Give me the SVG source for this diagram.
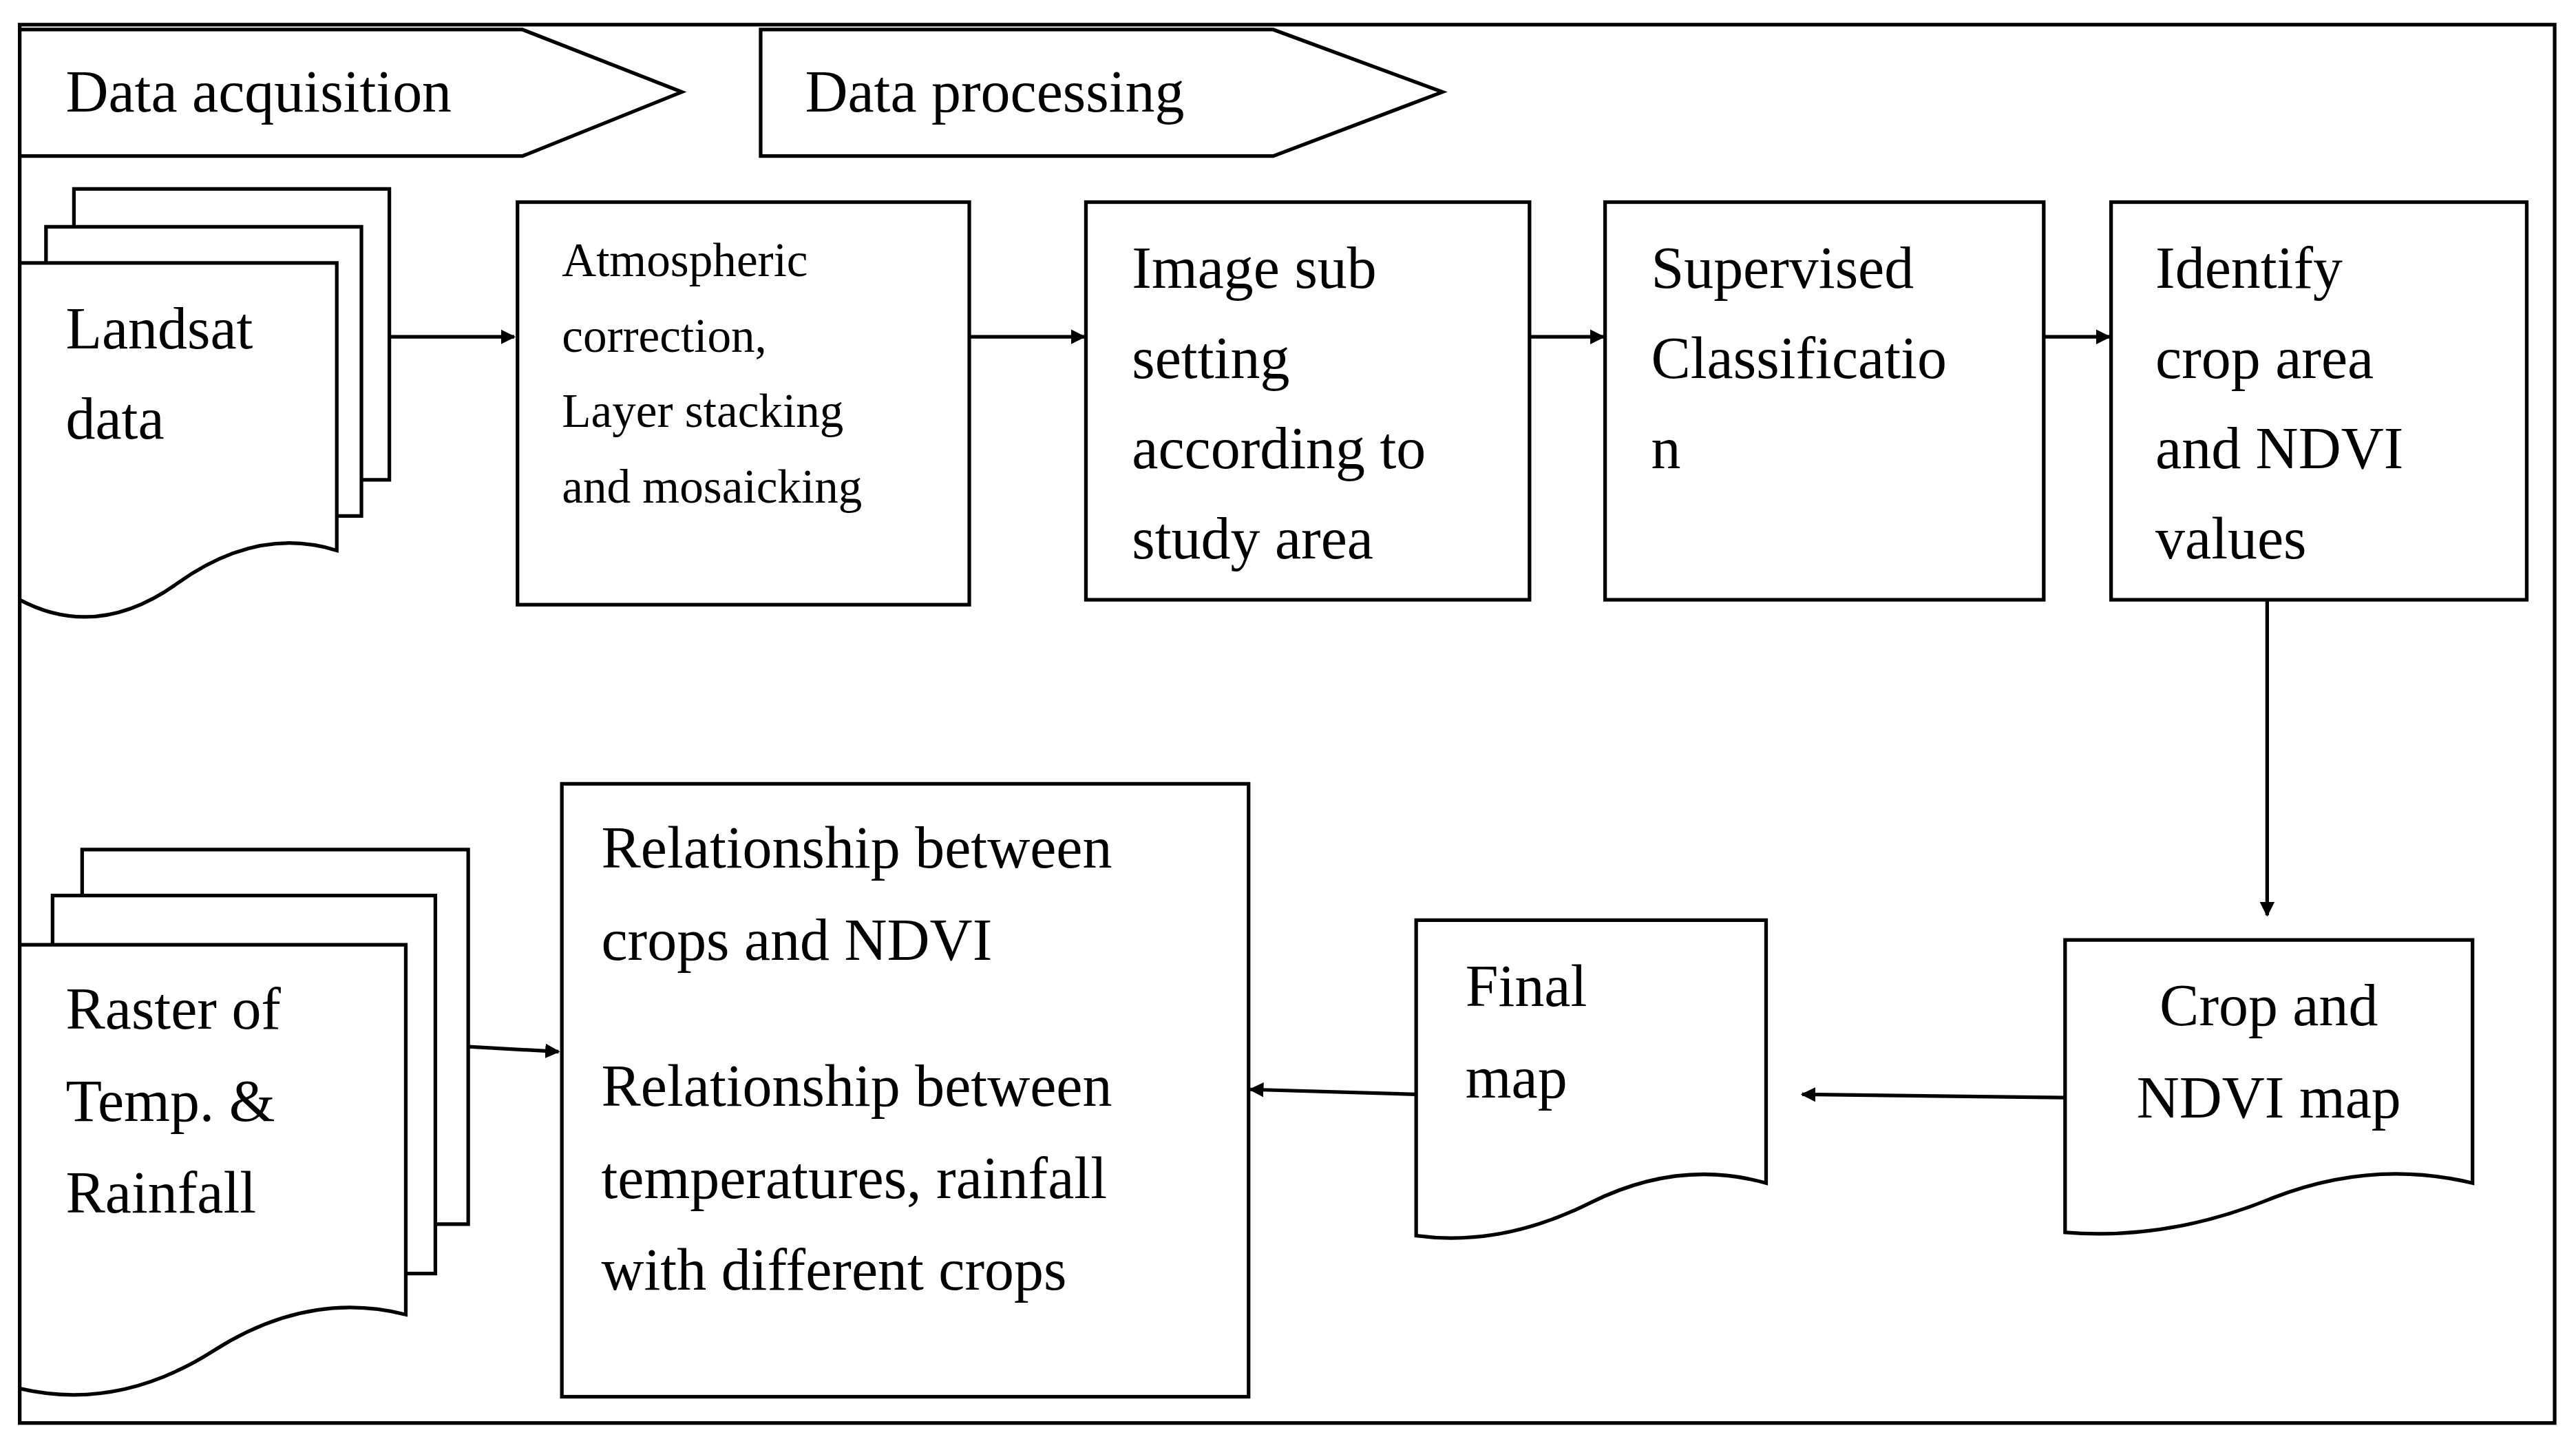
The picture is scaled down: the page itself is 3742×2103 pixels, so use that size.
<svg xmlns="http://www.w3.org/2000/svg" width="3742" height="2103" viewBox="0 0 3742 2103">
<defs>
<style>
.s{fill:#fff;stroke:#000;stroke-width:2.2}
.l{fill:none;stroke:#000;stroke-width:2.2}
.t{font-family:"Liberation Serif",serif;font-size:36px;fill:#000}
.sm{font-size:29px}
</style>
<marker id="a" viewBox="0 0 10 10" refX="9" refY="5" markerWidth="9" markerHeight="9" markerUnits="userSpaceOnUse" orient="auto"><path d="M0,0 L10,5 L0,10 z"/></marker>
</defs>
<rect width="3742" height="2103" fill="#fff"/>
<g transform="scale(2.3865)">
<rect x="12" y="15" width="1543" height="851" class="l" stroke-width="2.5"/>
<g id="banner1"><path class="s" d="M12,18 H318 L415,56 L318,95 H12 Z"/><text class="t" x="40" y="68">Data acquisition</text></g>
<g id="banner2"><path class="s" d="M463,18 H775 L878,56 L775,95 H463 Z"/><text class="t" x="490" y="68">Data processing</text></g>
<g id="landsat">
<path class="s" d="M45,115 H237 V292 H45 Z"/>
<path class="s" d="M28,138 H220 V314 H28 Z"/>
<path class="s" d="M12,160 H205 V335 Q157,320 108,355 T12,365 Z"/>
<text class="t" x="40" y="212">Landsat</text><text class="t" x="40" y="267">data</text></g>
<g id="atmos"><rect class="s" x="315" y="123" width="275" height="245"/>
<text class="t sm" x="342" y="168">Atmospheric</text><text class="t sm" x="342" y="214">correction,</text><text class="t sm" x="342" y="260">Layer stacking</text><text class="t sm" x="342" y="306">and mosaicking</text></g>
<g id="subset"><rect class="s" x="661" y="123" width="270" height="242"/>
<text class="t" x="689" y="175">Image sub</text><text class="t" x="689" y="230">setting</text><text class="t" x="689" y="285">according to</text><text class="t" x="689" y="340">study area</text></g>
<g id="classif"><rect class="s" x="977" y="123" width="267" height="242"/>
<text class="t" x="1005" y="175">Supervised</text><text class="t" x="1005" y="230">Classificatio</text><text class="t" x="1005" y="285">n</text></g>
<g id="identify"><rect class="s" x="1285" y="123" width="253" height="242"/>
<text class="t" x="1312" y="175">Identify</text><text class="t" x="1312" y="230">crop area</text><text class="t" x="1312" y="285">and NDVI</text><text class="t" x="1312" y="340">values</text></g>
<g id="cropmap"><path class="s" d="M1257,572 H1505 V720 Q1443,705 1381,730 T1257,750 Z"/>
<text class="t" x="1381" y="624" text-anchor="middle">Crop and</text><text class="t" x="1381" y="680" text-anchor="middle">NDVI map</text></g>
<g id="finalmap"><path class="s" d="M862,560 H1075 V720 Q1022,705 968,732 T862,752 Z"/>
<text class="t" x="892" y="612">Final</text><text class="t" x="892" y="668">map</text></g>
<g id="relation"><rect class="s" x="342" y="477" width="418" height="373"/>
<text class="t" x="366" y="528">Relationship between</text><text class="t" x="366" y="584">crops and NDVI</text><text class="t" x="366" y="673">Relationship between</text><text class="t" x="366" y="729">temperatures, rainfall</text><text class="t" x="366" y="785">with different crops</text></g>
<g id="raster">
<path class="s" d="M50,517 H285 V745 H50 Z"/>
<path class="s" d="M32,545 H265 V775 H32 Z"/>
<path class="s" d="M12,575 H247 V800 Q188,785 130,822 T12,845 Z"/>
<text class="t" x="40" y="626">Raster of</text><text class="t" x="40" y="682">Temp. &amp;</text><text class="t" x="40" y="738">Rainfall</text></g>
<g id="connectors" class="l" marker-end="url(#a)">
<line x1="237" y1="205" x2="313" y2="205"/>
<line x1="590" y1="205" x2="660" y2="205"/>
<line x1="931" y1="205" x2="976" y2="205"/>
<line x1="1244" y1="205" x2="1284" y2="205"/>
<line x1="1380" y1="365" x2="1380" y2="557"/>
<line x1="1257" y1="668" x2="1097" y2="666"/>
<line x1="862" y1="666" x2="761" y2="663"/>
<line x1="285" y1="637" x2="340" y2="640"/>
</g>
</g>
</svg>
